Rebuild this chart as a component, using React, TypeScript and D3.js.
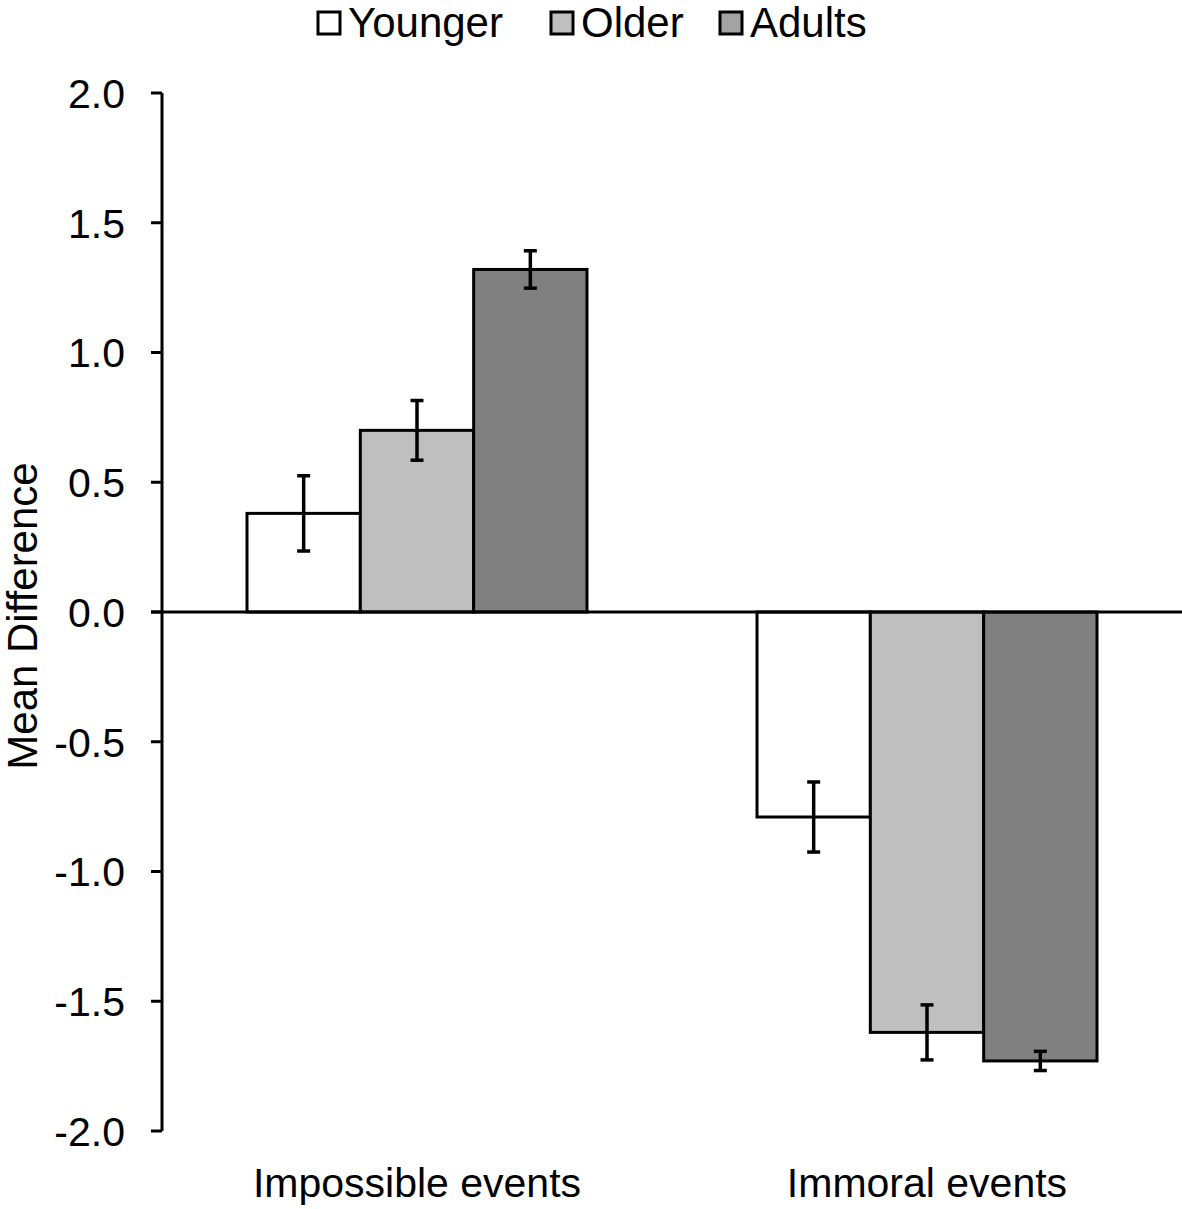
import React from "react";
import * as d3 from "d3";

const categories = ["Impossible events", "Immoral events"];
const groups = ["Younger", "Older", "Adults"];
const younger = [0.38, -0.79];
const older = [0.70, -1.62];
const adults = [1.32, -1.73];
const youngerErr = [0.145, 0.135];
const olderErr = [0.115, 0.106];
const adultsErr = [0.072, 0.037];
const yTicks = [2.0, 1.5, 1.0, 0.5, 0.0, -0.5, -1.0, -1.5, -2.0];

const barColors = ["#ffffff", "#bfbfbf", "#808080"];
const legendColors = ["#ffffff", "#bfbfbf", "#a3a3a3"];

const W = 1182;
const H = 1209;
const FONT = "'Liberation Sans', Arial, sans-serif";
const FS = 41;

const App = () => {
  const values = [younger, older, adults];
  const errors = [youngerErr, olderErr, adultsErr];

  const y = d3.scaleLinear().domain([-2, 2]).range([1131, 93]);
  const x0 = d3.scaleBand<string>()
    .domain(categories)
    .range([162, 1182])
    .paddingInner(1 / 3)
    .paddingOuter(1 / 6);
  const x1 = d3.scaleBand<string>()
    .domain(groups)
    .range([0, x0.bandwidth()]);

  const axisX = 162;
  const legendX = [318, 551, 720];

  return (
    <svg width={W} height={H} style={{ position: "absolute", left: 0, top: 0, background: "#fff" }}
      fontFamily={FONT}>
      {/* legend */}
      {groups.map((g, i) => (
        <g key={g} transform={`translate(${legendX[i]},12)`}>
          <rect x={0} y={0} width={22} height={22} fill={legendColors[i]} stroke="#000" strokeWidth={3} />
          <text x={30} y={25} fontSize={FS + 1} fill="#000">{g}</text>
        </g>
      ))}

      {/* bars */}
      {categories.map((c, ci) => (
        <g key={c} transform={`translate(${x0(c)},0)`}>
          {groups.map((g, gi) => {
            const v = values[gi][ci];
            const top = y(Math.max(0, v));
            const bottom = y(Math.min(0, v));
            return (
              <rect key={g} x={x1(g)} y={top} width={x1.bandwidth()} height={bottom - top}
                fill={barColors[gi]} stroke="#000" strokeWidth={3} />
            );
          })}
        </g>
      ))}

      {/* error bars */}
      {categories.map((c, ci) => (
        <g key={c + "err"} transform={`translate(${x0(c)},0)`}>
          {groups.map((g, gi) => {
            const v = values[gi][ci];
            const e = errors[gi][ci];
            const cx = (x1(g) as number) + x1.bandwidth() / 2;
            return (
              <g key={g} stroke="#000" strokeWidth={3.5}>
                <line x1={cx} x2={cx} y1={y(v + e)} y2={y(v - e)} />
                <line x1={cx - 6.5} x2={cx + 6.5} y1={y(v + e)} y2={y(v + e)} />
                <line x1={cx - 6.5} x2={cx + 6.5} y1={y(v - e)} y2={y(v - e)} />
              </g>
            );
          })}
        </g>
      ))}

      {/* y axis */}
      <line x1={axisX} x2={axisX} y1={y(2)} y2={y(-2)} stroke="#000" strokeWidth={3} />
      {yTicks.map(t => (
        <g key={t}>
          <line x1={151} x2={axisX} y1={y(t)} y2={y(t)} stroke="#000" strokeWidth={3} />
          <text x={125} y={y(t)} dy="0.36em" textAnchor="end" fontSize={FS} fill="#000">
            {t.toFixed(1)}
          </text>
        </g>
      ))}
      {/* zero line */}
      <line x1={151} x2={W} y1={y(0)} y2={y(0)} stroke="#000" strokeWidth={3} />

      {/* category labels */}
      {categories.map(c => (
        <text key={c} x={(x0(c) as number) + x0.bandwidth() / 2} y={1197} textAnchor="middle"
          fontSize={FS} fill="#000">{c}</text>
      ))}

      {/* y axis title */}
      <text transform={`translate(37,${y(0) + 4}) rotate(-90)`} textAnchor="middle" fontSize={FS + 1} fill="#000">
        Mean Difference
      </text>
    </svg>
  );
};

export default App;
